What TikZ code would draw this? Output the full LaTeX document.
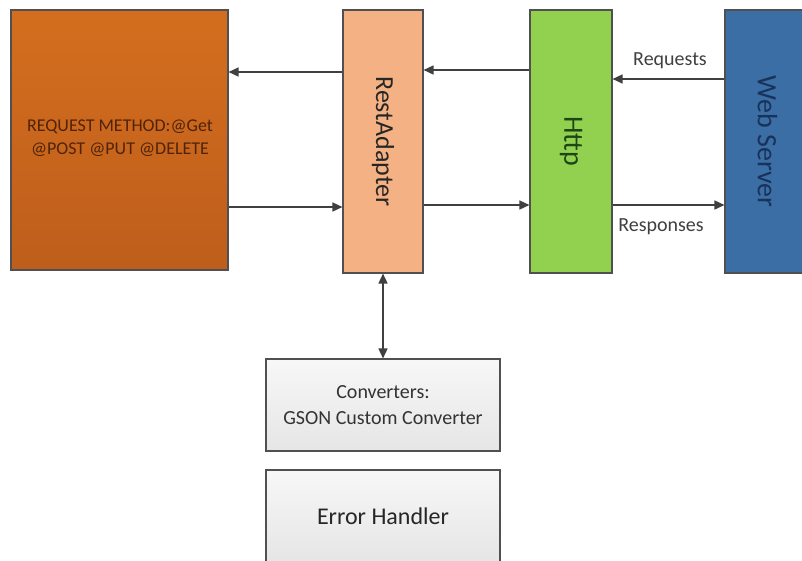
\documentclass[tikz,border=0pt]{standalone}
\usepackage{fontspec}
\setmainfont{Carlito}
\usetikzlibrary{arrows.meta}
\definecolor{rapeach}{RGB}{244,177,131}
\definecolor{httpgreen}{RGB}{146,208,80}
\definecolor{wsblue}{RGB}{58,110,165}
\definecolor{linegray}{RGB}{64,64,64}
\definecolor{boxedge}{RGB}{80,80,80}
\begin{document}
\begin{tikzpicture}[x=1pt,y=-1pt,
  box/.style={draw=boxedge,line width=1.1pt,inner sep=0pt},
  arr/.style={draw=linegray,line width=1.5pt,-{Triangle[length=10pt,width=9pt]}},
  darr/.style={draw=linegray,line width=1.5pt,{Triangle[length=10pt,width=9pt]}-{Triangle[length=10pt,width=9pt]}},
  lbl/.style={font=\fontsize{20}{24}\selectfont,text=black!75},
  vtxt/.style={rotate=-90}]
\useasboundingbox (0,0) rectangle (802,560);
\fill[white] (0,0) rectangle (802,560);
% boxes
\node[box,minimum width=217pt,minimum height=260pt,top color={rgb,255:red,212;green,110;blue,30},bottom color={rgb,255:red,190;green,94;blue,28}] (req) at (119.5,140) {};
\node[box,minimum width=80pt,minimum height=263pt,fill=rapeach] (rest) at (383,141.5) {};
\node[box,minimum width=82pt,minimum height=263pt,fill=httpgreen] (http) at (571,141.5) {};
\node[box,minimum width=85pt,minimum height=263pt,fill=wsblue] (ws) at (767.5,141.5) {};
\node[box,minimum width=234pt,minimum height=92pt,top color=white!97!black,bottom color=white!90!black] (conv) at (383,405) {};
\node[box,minimum width=234pt,minimum height=92pt,top color=white!97!black,bottom color=white!90!black] (err) at (383,516) {};
% texts
\node[font=\fontsize{18}{23}\selectfont,text={rgb,255:red,80;green,35;blue,10},align=center] (reqT) at (120,138) {REQUEST METHOD:@Get\\@POST @PUT @DELETE};
\node[vtxt,font=\fontsize{26}{30}\selectfont,text=black!85] (restT) at (rest) {RestAdapter};
\node[vtxt,font=\fontsize{28}{30}\selectfont,text={rgb,255:red,30;green,70;blue,20}] (httpT) at (http) {Http};
\node[vtxt,font=\fontsize{28}{30}\selectfont,text={rgb,255:red,25;green,50;blue,90}] (wsT) at (ws) {Web Server};
\node[font=\fontsize{20}{26}\selectfont,text=black!80,align=center] (convT) at (conv) {Converters:\\GSON Custom Converter};
\node[font=\fontsize{24}{28}\selectfont,text=black!85] (errT) at (err) {Error Handler};
% arrows
\draw[arr] (rest.west|-0,72) -- (req.east|-0,72);
\draw[arr] (req.east|-0,207) -- (rest.west|-0,207);
\draw[arr] (http.west|-0,70) -- (rest.east|-0,70);
\draw[arr] (rest.east|-0,205) -- (http.west|-0,205);
\draw[arr] (ws.west|-0,79) -- (http.east|-0,79);
\draw[arr] (http.east|-0,205) -- (ws.west|-0,205);
\draw[darr] (rest.south) -- (conv.north);
\node[lbl] (reqL) at (670,61) {Requests};
\node[lbl] (respL) at (661,227) {Responses};
\end{tikzpicture}
\end{document}
